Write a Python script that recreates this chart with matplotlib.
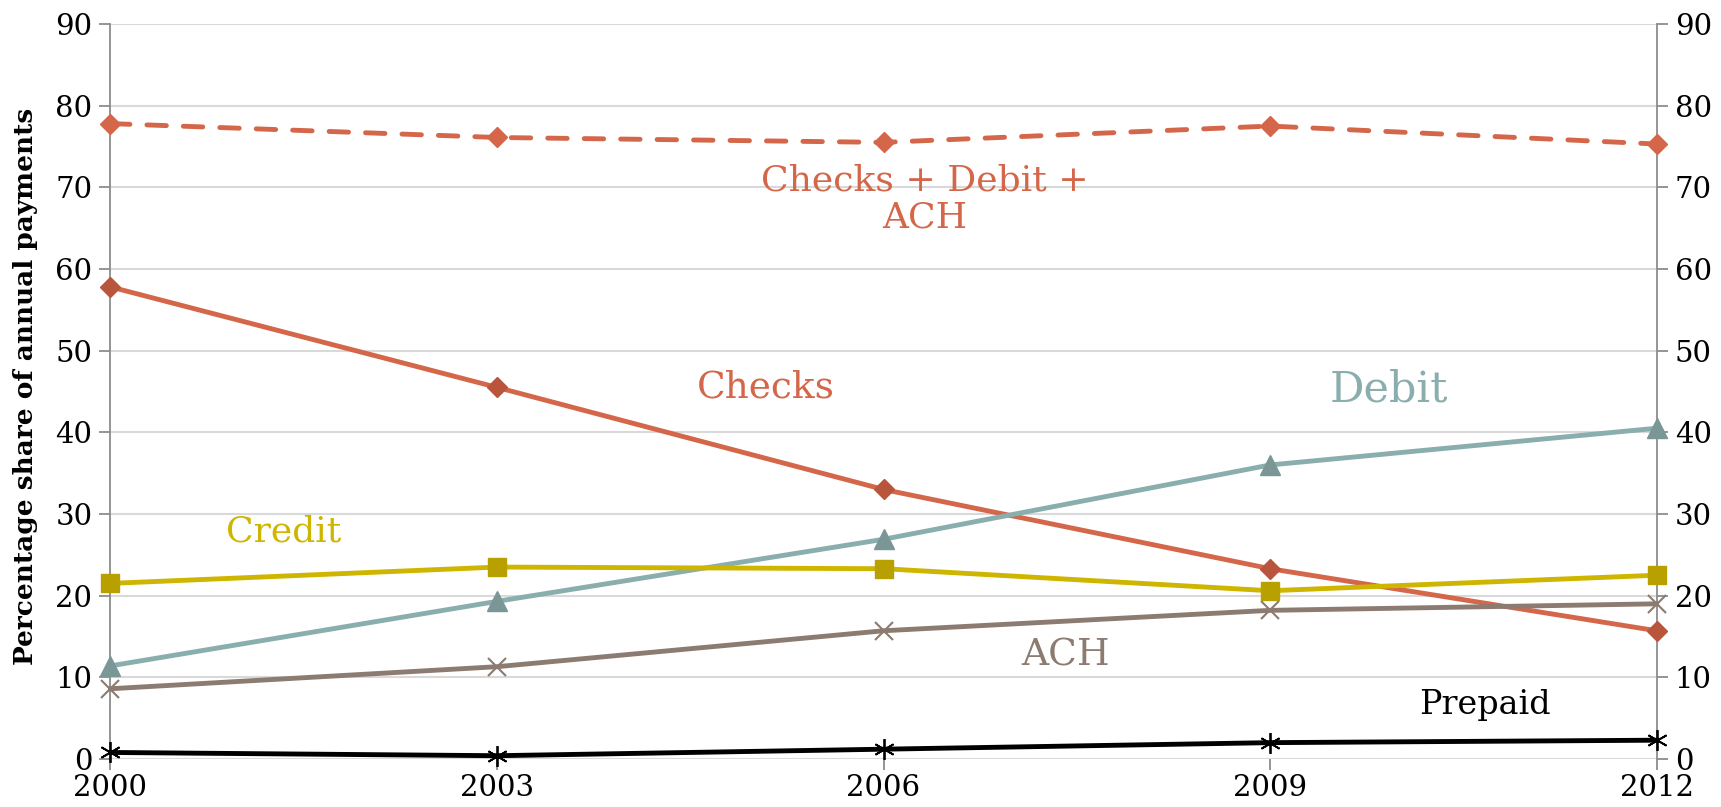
import matplotlib as mpl
import matplotlib.pyplot as plt

mpl.rcParams.update({
    "font.family": "serif",
    "font.serif": ["DejaVu Serif"],
})

# --- Data: percentage share of annual payments ---
years = [2000, 2003, 2006, 2009, 2012]
checks_debit_ach = [77.8, 76.1, 75.5, 77.5, 75.3]
checks = [57.8, 45.5, 33.0, 23.3, 15.7]
debit = [11.4, 19.3, 26.9, 36.0, 40.5]
credit = [21.5, 23.5, 23.3, 20.6, 22.5]
ach = [8.6, 11.3, 15.7, 18.2, 19.0]
prepaid = [0.8, 0.4, 1.2, 2.0, 2.3]

y_ticks = list(range(0, 100, 10))

COLORS = {
    "checks": "#D4664A",
    "checks_mk": "#BA553D",
    "debit": "#8AAEAD",
    "debit_mk": "#7A9696",
    "credit": "#CEB600",
    "credit_mk": "#B8A000",
    "ach": "#8C7B70",
    "prepaid": "#000000",
}

fig = plt.figure(figsize=(17.21, 8.07), dpi=100)
ax = fig.add_axes([0.0642, 0.0595, 0.8984, 0.9108])

ax.set_xlim(2000, 2012)
ax.set_ylim(0, 90)
ax.set_yticks(y_ticks)
ax.set_xticks(years)
ax.grid(True, axis="y", color="#D9D9D9", linewidth=1.5)
ax.set_axisbelow(True)

for side in ("top", "bottom"):
    ax.spines[side].set_visible(False)
for side in ("left", "right"):
    ax.spines[side].set_color("#8C8C8C")
    ax.spines[side].set_linewidth(1.3)

ax.tick_params(axis="y", which="both", length=8, width=1.3, color="#8C8C8C",
               labelsize=21, left=True, right=True, labelleft=True, labelright=True,
               pad=5)
ax.tick_params(axis="x", length=8, width=1.3, color="#8C8C8C", labelsize=21, pad=3)

# Aggregate series (dashed)
ax.plot(years, checks_debit_ach, color=COLORS["checks"], linewidth=3.5,
        linestyle=(0, (4, 3.5)), dash_capstyle="round",
        marker="D", markersize=10, markerfacecolor=COLORS["checks"],
        markeredgecolor=COLORS["checks"], clip_on=False, zorder=5)

ax.plot(years, checks, color=COLORS["checks"], linewidth=3.5,
        marker="D", markersize=10, markerfacecolor=COLORS["checks_mk"],
        markeredgecolor=COLORS["checks_mk"], clip_on=False, zorder=5)

ax.plot(years, debit, color=COLORS["debit"], linewidth=3.5,
        marker="^", markersize=14, markerfacecolor=COLORS["debit_mk"],
        markeredgecolor=COLORS["debit_mk"], clip_on=False, zorder=5)

ax.plot(years, credit, color=COLORS["credit"], linewidth=3.5,
        marker="s", markersize=13, markerfacecolor=COLORS["credit_mk"],
        markeredgecolor=COLORS["credit_mk"], clip_on=False, zorder=5)

ax.plot(years, ach, color=COLORS["ach"], linewidth=3.5,
        marker="x", markersize=13, markeredgewidth=1.5,
        markeredgecolor=COLORS["ach"], clip_on=False, zorder=5)

ax.plot(years, prepaid, color=COLORS["prepaid"], linewidth=3.5,
        marker=(6, 2, 0), markersize=15, markeredgewidth=1.3,
        markeredgecolor=COLORS["prepaid"], clip_on=False, zorder=5)

# In-chart series labels
lbl = dict(ha="center", va="center")
ax.text(2006.32, 68.6, "Checks + Debit +\nACH", color=COLORS["checks"],
        fontsize=26, linespacing=1.1, **lbl)
ax.text(2005.09, 45.5, "Checks", color=COLORS["checks"], fontsize=27, **lbl)
ax.text(2009.92, 45.2, "Debit", color=COLORS["debit"], fontsize=31, **lbl)
ax.text(2001.34, 27.9, "Credit", color=COLORS["credit"], fontsize=26, **lbl)
ax.text(2007.41, 12.7, "ACH", color=COLORS["ach"], fontsize=27, **lbl)
ax.text(2010.67, 6.6, "Prepaid", color=COLORS["prepaid"], fontsize=24, **lbl)

ax.set_ylabel("Percentage share of annual payments", fontsize=19,
              fontweight="bold")
ax.yaxis.set_label_coords(-0.047, 0.507)

fig.savefig("out.png", dpi=100)
